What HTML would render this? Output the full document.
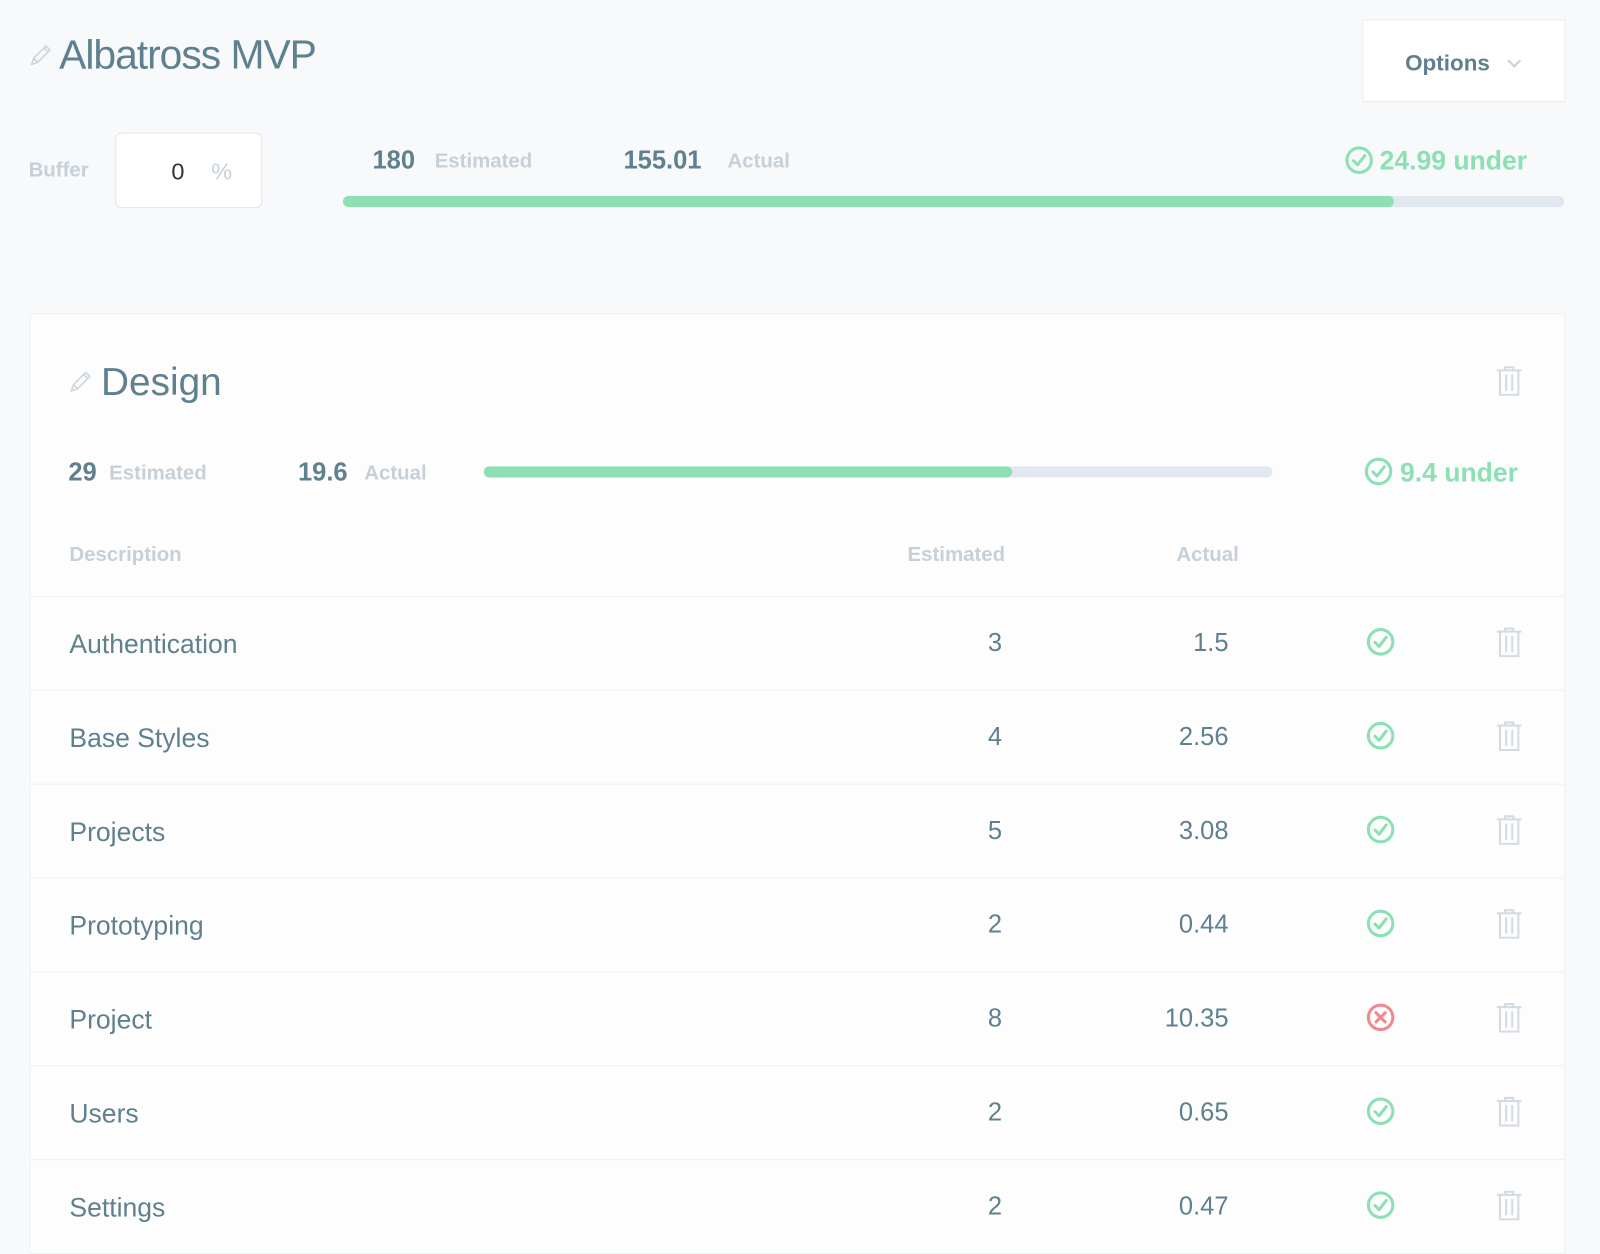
<!DOCTYPE html>
<html><head><meta charset="utf-8"><style>
html,body{margin:0;padding:0;background:#f8f9fb;overflow:hidden;width:1600px;height:1254px}
#s{position:absolute;left:0;top:0;width:1568px;height:1229px;transform:scale(1.0204);transform-origin:0 0;font-family:"Liberation Sans",sans-serif;color:#5f808f;overflow:hidden}
.a{position:absolute;white-space:nowrap;line-height:1}
.b{font-weight:bold}
.m{color:#c6d0d8}
.g{color:#8ce0b4}
.r{text-align:right}
.bar{position:absolute;height:11px;border-radius:6px;background:#e2e8f0;overflow:hidden}
.bar i{position:absolute;left:0;top:0;bottom:0;background:#8ce0b2;border-radius:6px}
.line{position:absolute;left:29px;width:1505px;height:1px;background:#edf1f5}
</style></head><body><div id="s">
<svg class="a" style="left:28px;top:42px" width="24" height="24" viewBox="0 0 24 24"><path d="M3 21l2-6L17 3l4 4L9 19z M5 15l4 4 M15 5l4 4" fill="none" stroke="#cdd6dd" stroke-width="1.6"/></svg>
<div class="a" style="left:58px;top:34px;font-size:40px;letter-spacing:-1px">Albatross MVP</div>
<div class="a" style="left:1335px;top:19px;width:197px;height:79px;background:#fff;border:1px solid #e9edf1"></div>
<div class="a b" style="left:1377px;top:51px;font-size:22px">Options</div>
<svg class="a" style="left:1477px;top:57px" width="14" height="10"><path d="M1 2l6 6 6-6" fill="none" stroke="#c6d0d8" stroke-width="2"/></svg>
<div class="a b m" style="left:28px;top:157px;font-size:20px">Buffer</div>
<div class="a" style="left:113px;top:130px;width:142px;height:72px;background:#fff;border:1px solid #dde6ee;border-radius:6px"></div>
<div class="a" style="left:168px;top:157px;font-size:23px;color:#333">0</div>
<div class="a m" style="left:207px;top:157px;font-size:23px">%</div>
<div class="a b" style="left:365px;top:145px;font-size:25px">180</div>
<div class="a b m" style="left:426px;top:148px;font-size:20px">Estimated</div>
<div class="a b" style="left:611px;top:145px;font-size:25px">155.01</div>
<div class="a b m" style="left:713px;top:148px;font-size:20px">Actual</div>
<svg class="a" style="left:1318px;top:143px" width="28" height="28" viewBox="0 0 28 28"><circle cx="14" cy="14" r="12" fill="none" stroke="#8ce0b4" stroke-width="3"/><path d="M8.5 14.5l4 4 7-9" fill="none" stroke="#8ce0b4" stroke-width="3" stroke-linecap="round" stroke-linejoin="round"/></svg>
<div class="a b g" style="left:1352px;top:144px;font-size:26px">24.99 under</div>
<div class="bar" style="left:336px;top:192px;width:1197px"><i style="width:1030px"></i></div>

<div class="a" style="left:29px;top:307px;width:1503px;height:930px;background:#fdfdfe;border:1px solid #edf0f3"></div>
<svg class="a" style="left:67px;top:362px" width="24" height="24" viewBox="0 0 24 24"><path d="M3 21l2-6L17 3l4 4L9 19z M5 15l4 4 M15 5l4 4" fill="none" stroke="#cdd6dd" stroke-width="1.6"/></svg>
<div class="a" style="left:99px;top:356px;font-size:38px">Design</div>
<svg class="a" style="left:1466px;top:358px" width="26" height="30" viewBox="0 0 26 30"><path d="M1 5h24 M9 5V2h8v3 M4 5v24h18V5 M10 9v16 M16 9v16" fill="none" stroke="#d3dbe1" stroke-width="2"/></svg>
<div class="a b" style="left:67px;top:451px;font-size:25px">29</div>
<div class="a b m" style="left:107px;top:454px;font-size:20px">Estimated</div>
<div class="a b" style="left:292px;top:451px;font-size:25px">19.6</div>
<div class="a b m" style="left:357px;top:454px;font-size:20px">Actual</div>
<div class="bar" style="left:474px;top:457px;width:773px"><i style="width:518px"></i></div>
<svg class="a" style="left:1337px;top:448px" width="28" height="28" viewBox="0 0 28 28"><circle cx="14" cy="14" r="12" fill="none" stroke="#8ce0b4" stroke-width="3"/><path d="M8.5 14.5l4 4 7-9" fill="none" stroke="#8ce0b4" stroke-width="3" stroke-linecap="round" stroke-linejoin="round"/></svg>
<div class="a b g" style="left:1372px;top:450px;font-size:26px">9.4 under</div>
<div class="a b m" style="left:68px;top:534px;font-size:20px">Description</div>
<div class="a b m r" style="left:835px;width:150px;top:534px;font-size:20px">Estimated</div>
<div class="a b m r" style="left:1064px;width:150px;top:534px;font-size:20px">Actual</div>

<div class="line" style="top:584px"></div>
<div class="line" style="top:676px"></div>
<div class="line" style="top:768px"></div>
<div class="line" style="top:860px"></div>
<div class="line" style="top:952px"></div>
<div class="line" style="top:1044px"></div>
<div class="line" style="top:1136px"></div>
<div class="line" style="top:1228px"></div>

<div id="rows"></div>
</div>
<script>
var d=[["Authentication","3","1.5",1],["Base Styles","4","2.56",1],["Projects","5","3.08",1],["Prototyping","2","0.44",1],["Project","8","10.35",0],["Users","2","0.65",1],["Settings","2","0.47",1]];
var h="";
d.forEach(function(r,i){var t=584+92*i;
h+='<div class="a" style="left:68px;top:'+(t+34)+'px;font-size:26px">'+r[0]+'</div>';
h+='<div class="a r" style="left:882px;width:100px;top:'+(t+34)+'px;font-size:25px">'+r[1]+'</div>';
h+='<div class="a r" style="left:1104px;width:100px;top:'+(t+34)+'px;font-size:25px">'+r[2]+'</div>';
var c=r[3]?'#8ce0b4':'#f08890';
var p=r[3]?'<path d="M8.5 14.5l4 4 7-9" fill="none" stroke="'+c+'" stroke-width="3" stroke-linecap="round" stroke-linejoin="round"/>':'<path d="M9.5 9.5l9 9M18.5 9.5l-9 9" fill="none" stroke="'+c+'" stroke-width="3" stroke-linecap="round"/>';
h+='<svg class="a" style="left:1339px;top:'+(t+31)+'px" width="28" height="28" viewBox="0 0 28 28"><circle cx="14" cy="14" r="12" fill="none" stroke="'+c+'" stroke-width="3"/>'+p+'</svg>';
h+='<svg class="a" style="left:1466px;top:'+(t+30)+'px" width="26" height="30" viewBox="0 0 26 30"><path d="M1 5h24 M9 5V2h8v3 M4 5v24h18V5 M10 9v16 M16 9v16" fill="none" stroke="#d3dbe1" stroke-width="2"/></svg>';
});
document.getElementById("rows").outerHTML=h;
</script>
</body></html>
